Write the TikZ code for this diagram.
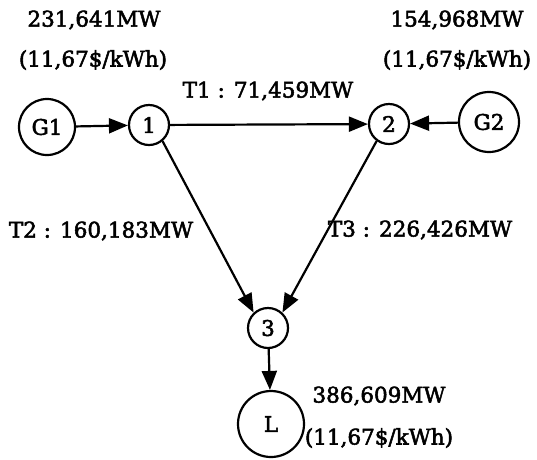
\documentclass[tikz,border=0pt]{standalone}
\usepackage{fontspec}
\newfontfamily\lblfont[FakeBold=2.4]{DejaVu Serif}
\usetikzlibrary{arrows.meta}
\begin{document}
\begin{tikzpicture}[x=1pt,y=-1pt,
  txt/.style={font=\fontsize{21.5}{24}\lblfont},
  lbl/.style={txt, inner sep=0pt},
  gen/.style={circle, draw, line width=2.2pt, minimum size=56pt, inner sep=0pt, txt},
  bus/.style={circle, draw, line width=2.2pt, minimum size=40pt, inner sep=0pt, txt},
  flow/.style={line width=2.2pt, -{Triangle[length=19pt,width=15pt]}}]
\useasboundingbox (0,0) rectangle (537,459);
% generators, buses and load
\node[gen] (G1) at (47,127) {G1};
\node[bus] (B1) at (149,125) {1};
\node[bus] (B2) at (389,124) {2};
\node[gen, minimum size=60pt] (G2) at (489,122) {G2};
\node[bus] (B3) at (268,328) {3};
\node[gen, minimum size=66pt] (L) at (271,424) {L};
% power flows
\draw[flow] (G1) -- (B1);
\draw[flow] (B1) -- (B2);
\draw[flow] (G2) -- (B2);
\draw[flow] (B1.-50) -- (B3.133);
\draw[flow] (B2.-126) -- (B3.47);
\draw[flow] (B3) -- (L);
% labels
\node[lbl] (pg1) at (94,20) {231,641MW};
\node[lbl] (cg1) at (93,60) {(11,67\$/kWh)};
\node[lbl] (pg2) at (457,20) {154,968MW};
\node[lbl] (cg2) at (457,60) {(11,67\$/kWh)};
\node[lbl] (t1) at (268,91) {T1 : 71,459MW};
\node[lbl] (t2) at (101,231) {T2 : 160,183MW};
\node[lbl] (t3) at (420,230) {T3 : 226,426MW};
\node[lbl] (pl) at (379,396) {386,609MW};
\node[lbl] (cl) at (379,438) {(11,67\$/kWh)};
\end{tikzpicture}
\end{document}
